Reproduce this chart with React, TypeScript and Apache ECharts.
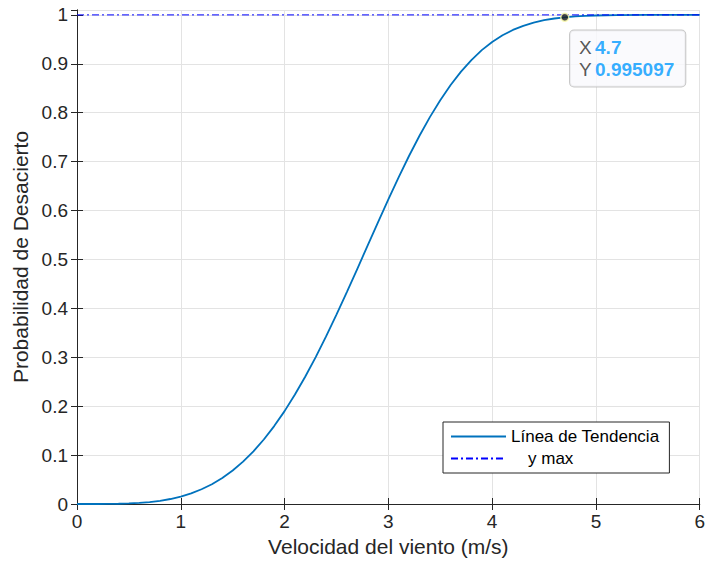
import React, { useEffect, useRef } from "react";
import * as echarts from "echarts";

const windSpeed = [
  0, 0.1, 0.2, 0.3, 0.4, 0.5, 0.6, 0.7, 0.8, 0.9, 1.0,
  1.1, 1.2, 1.3, 1.4, 1.5, 1.6, 1.7, 1.8, 1.9, 2.0,
  2.1, 2.2, 2.3, 2.4, 2.5, 2.6, 2.7, 2.8, 2.9, 3.0,
  3.1, 3.2, 3.3, 3.4, 3.5, 3.6, 3.7, 3.8, 3.9, 4.0,
  4.1, 4.2, 4.3, 4.4, 4.5, 4.6, 4.7, 4.8, 4.9, 5.0,
  5.2, 5.5, 6.0,
];
const probability = [
  0, 0, 0.00004, 0.00016, 0.00048, 0.0011, 0.0022, 0.004, 0.0066, 0.0102, 0.0152,
  0.0217, 0.0301, 0.0405, 0.0532, 0.0685, 0.0866, 0.1077, 0.1319, 0.1593, 0.1899,
  0.2238, 0.2607, 0.3004, 0.3426, 0.3871, 0.4332, 0.4804, 0.5283, 0.576, 0.6229,
  0.6684, 0.712, 0.7529, 0.791, 0.8256, 0.8567, 0.8841, 0.9077, 0.9279, 0.9446,
  0.9583, 0.9692, 0.9777, 0.9842, 0.9891, 0.9926, 0.9951, 0.9968, 0.998, 0.9988,
  0.9996, 0.99995, 1,
];
const yMaxLine = [
  [0, 1],
  [6, 1],
];
const dataTip = [4.7, 0.995097];
const seriesNames = ["Línea de Tendencia", "y max"];
const xAxisName = "Velocidad del viento (m/s)";
const yAxisName = "Probabilidad de Desacierto";

const FONT = "'Liberation Sans', Arial, Helvetica, sans-serif";
const AX = "#262626";

export default function App() {
  const ref = useRef<HTMLDivElement>(null);
  useEffect(() => {
    if (!ref.current) return;
    const chart = echarts.init(ref.current, null, { renderer: "svg" });
    const common = {
      axisLine: { show: true, lineStyle: { color: AX, width: 1 } },
      axisTick: { show: true, inside: true, length: 6, lineStyle: { color: AX } },
    };
    chart.setOption({
      animation: false,
      backgroundColor: "#ffffff",
      textStyle: { fontFamily: FONT },
      grid: { left: 77, right: 6, top: 10, bottom: 61, containLabel: false },
      legend: {
        orient: "vertical",
        left: 443,
        top: 422,
        padding: [6, 10, 6, 7],
        itemGap: 5,
        itemWidth: 55,
        itemHeight: 14,
        itemTextGap: 6,
        backgroundColor: "#ffffff",
        borderColor: AX,
        borderWidth: 1,
        borderRadius: 0,
        data: seriesNames,
        itemStyle: { opacity: 0 },
        textStyle: {
          fontFamily: FONT,
          fontSize: 17,
          color: "#000000",
          rich: { p: { fontFamily: FONT, fontSize: 17, color: "#000", padding: [0, 0, 0, 17] } },
        },
        formatter: (n: string) => (n === seriesNames[1] ? `{p|${n}}` : n),
      },
      xAxis: [
        {
          type: "value",
          min: 0,
          max: 6,
          interval: 1,
          position: "bottom",
          name: xAxisName,
          nameLocation: "middle",
          nameGap: 32,
          nameTextStyle: { fontFamily: FONT, fontSize: 21, color: AX },
          ...common,
          axisLabel: { color: AX, fontSize: 19, fontFamily: FONT, margin: 8 },
          splitLine: { show: true, lineStyle: { color: "#e3e3e3", width: 1 } },
        },
        {
          type: "value",
          min: 0,
          max: 6,
          interval: 1,
          position: "top",
          ...common,
          axisLabel: { show: false },
          splitLine: { show: false },
        },
      ],
      yAxis: [
        {
          type: "value",
          min: 0,
          max: 1.01,
          interval: 0.1,
          position: "left",
          name: yAxisName,
          nameLocation: "middle",
          nameGap: 43,
          nameTextStyle: { fontFamily: FONT, fontSize: 21, color: AX },
          ...common,
          axisLabel: {
            color: AX,
            fontSize: 19,
            fontFamily: FONT,
            margin: 9,
            showMaxLabel: false,
            formatter: (v: number) => String(Math.round(v * 10) / 10),
          },
          splitLine: { show: true, lineStyle: { color: "#e3e3e3", width: 1 } },
        },
        {
          type: "value",
          min: 0,
          max: 1.01,
          interval: 0.1,
          position: "right",
          ...common,
          axisLabel: { show: false },
          splitLine: { show: false },
        },
      ],
      series: [
        {
          name: seriesNames[0],
          type: "line",
          data: windSpeed.map((x, i) => [x, probability[i]]),
          showSymbol: false,
          symbol: "none",
          color: "#0072BD",
          lineStyle: { color: "#0072BD", width: 1.8 },
          z: 3,
        },
        {
          name: seriesNames[1],
          type: "line",
          data: yMaxLine,
          showSymbol: false,
          symbol: "none",
          color: "#0000ff",
          lineStyle: { color: "#0000ff", width: 1, type: [7, 3, 2, 3] },
          z: 4,
        },
        {
          name: "datatip",
          type: "scatter",
          data: [dataTip],
          symbol: "circle",
          symbolSize: 8,
          itemStyle: { color: "#1a1a1a", borderColor: "#ffffb0", borderWidth: 1.5 },
          z: 10,
          label: {
            show: true,
            position: [10, 18],
            formatter: (p: any) => `{k|X} {v|${p.value[0]}}\n{k|Y} {v|${p.value[1]}}`,
            backgroundColor: "#f9f9fd",
            borderColor: "#b8b8b8",
            borderWidth: 1,
            borderRadius: 4,
            padding: [6, 11, 6, 9],
            lineHeight: 22,
            rich: {
              k: { fontFamily: FONT, fontSize: 19, color: "#2b2b2b", lineHeight: 22 },
              v: { fontFamily: FONT, fontSize: 19, fontWeight: "bold", color: "#0099ff", lineHeight: 22 },
            },
          },
        },
      ],
    });
    return () => chart.dispose();
  }, []);
  return <div ref={ref} style={{ width: 708, height: 565, position: "absolute", left: 0, top: 0 }} />;
}
